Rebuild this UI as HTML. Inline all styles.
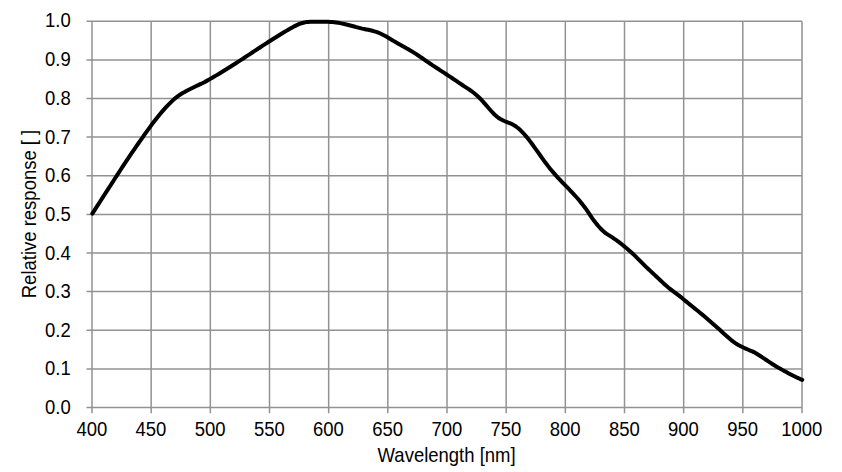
<!DOCTYPE html>
<html><head><meta charset="utf-8"><style>
html,body{margin:0;padding:0;background:#fff;width:842px;height:472px;overflow:hidden}
svg{display:block}
text{font-family:"Liberation Sans",sans-serif;font-size:18.5px;fill:#000}
</style></head><body>
<svg width="842" height="472" viewBox="0 0 842 472">
<rect width="842" height="472" fill="#fff"/>
<g stroke="#929292" stroke-width="1.5" fill="none">
<line x1="92.00" y1="21.25" x2="92.00" y2="413.2"/>
<line x1="151.17" y1="21.25" x2="151.17" y2="413.2"/>
<line x1="210.33" y1="21.25" x2="210.33" y2="413.2"/>
<line x1="269.50" y1="21.25" x2="269.50" y2="413.2"/>
<line x1="328.67" y1="21.25" x2="328.67" y2="413.2"/>
<line x1="387.83" y1="21.25" x2="387.83" y2="413.2"/>
<line x1="447.00" y1="21.25" x2="447.00" y2="413.2"/>
<line x1="506.17" y1="21.25" x2="506.17" y2="413.2"/>
<line x1="565.33" y1="21.25" x2="565.33" y2="413.2"/>
<line x1="624.50" y1="21.25" x2="624.50" y2="413.2"/>
<line x1="683.67" y1="21.25" x2="683.67" y2="413.2"/>
<line x1="742.83" y1="21.25" x2="742.83" y2="413.2"/>
<line x1="802.00" y1="21.25" x2="802.00" y2="413.2"/>
<line x1="86.5" y1="407.50" x2="802.0" y2="407.50"/>
<line x1="86.5" y1="368.88" x2="802.0" y2="368.88"/>
<line x1="86.5" y1="330.25" x2="802.0" y2="330.25"/>
<line x1="86.5" y1="291.62" x2="802.0" y2="291.62"/>
<line x1="86.5" y1="253.00" x2="802.0" y2="253.00"/>
<line x1="86.5" y1="214.38" x2="802.0" y2="214.38"/>
<line x1="86.5" y1="175.75" x2="802.0" y2="175.75"/>
<line x1="86.5" y1="137.12" x2="802.0" y2="137.12"/>
<line x1="86.5" y1="98.50" x2="802.0" y2="98.50"/>
<line x1="86.5" y1="59.88" x2="802.0" y2="59.88"/>
<line x1="86.5" y1="21.25" x2="802.0" y2="21.25"/>
</g>
<path d="M92.30 213.65 L94.30 210.55 96.30 207.44 98.30 204.34 100.30 201.24 102.30 198.14 104.30 195.04 106.30 191.94 108.30 188.84 110.30 185.73 112.30 182.62 114.30 179.52 116.30 176.42 118.30 173.33 120.30 170.26 122.30 167.19 124.30 164.15 126.30 161.13 128.30 158.14 130.30 155.17 132.30 152.23 134.30 149.30 136.30 146.40 138.30 143.51 140.30 140.65 142.30 137.80 144.30 134.96 146.30 132.15 148.30 129.37 150.30 126.62 152.30 123.92 154.30 121.27 156.30 118.68 158.30 116.16 160.30 113.72 162.30 111.36 164.30 109.10 166.30 106.93 168.30 104.86 170.30 102.85 172.30 100.90 174.30 99.06 176.30 97.37 178.30 95.88 180.30 94.53 182.30 93.29 184.30 92.14 186.30 91.06 188.30 90.03 190.30 89.03 192.30 88.04 194.30 87.05 196.30 86.06 198.30 85.11 200.30 84.19 202.30 83.24 204.30 82.22 206.30 81.13 208.30 80.01 210.30 78.88 212.30 77.73 214.30 76.56 216.30 75.39 218.30 74.19 220.30 72.99 222.30 71.77 224.30 70.54 226.30 69.30 228.30 68.05 230.30 66.79 232.30 65.52 234.30 64.24 236.30 62.96 238.30 61.67 240.30 60.37 242.30 59.07 244.30 57.76 246.30 56.45 248.30 55.13 250.30 53.81 252.30 52.49 254.30 51.17 256.30 49.85 258.30 48.54 260.30 47.23 262.30 45.92 264.30 44.62 266.30 43.33 268.30 42.05 270.30 40.78 272.30 39.51 274.30 38.24 276.30 36.99 278.30 35.74 280.30 34.50 282.30 33.26 284.30 32.05 286.30 30.85 288.30 29.67 290.30 28.52 292.30 27.40 294.30 26.34 296.30 25.35 298.30 24.44 300.30 23.65 302.30 22.98 304.30 22.46 306.30 22.10 308.30 21.91 310.30 21.85 312.30 21.85 314.30 21.86 316.30 21.86 318.30 21.83 320.30 21.80 322.30 21.77 324.30 21.76 326.30 21.77 328.30 21.81 330.30 21.89 332.30 22.02 334.30 22.20 336.30 22.45 338.30 22.77 340.30 23.16 342.30 23.60 344.30 24.07 346.30 24.55 348.30 25.03 350.30 25.51 352.30 26.00 354.30 26.53 356.30 27.07 358.30 27.61 360.30 28.12 362.30 28.60 364.30 29.03 366.30 29.42 368.30 29.83 370.30 30.27 372.30 30.76 374.30 31.32 376.30 31.95 378.30 32.68 380.30 33.53 382.30 34.48 384.30 35.51 386.30 36.62 388.30 37.78 390.30 38.97 392.30 40.18 394.30 41.38 396.30 42.56 398.30 43.71 400.30 44.83 402.30 45.94 404.30 47.05 406.30 48.16 408.30 49.29 410.30 50.44 412.30 51.64 414.30 52.88 416.30 54.17 418.30 55.50 420.30 56.86 422.30 58.24 424.30 59.63 426.30 61.02 428.30 62.40 430.30 63.77 432.30 65.11 434.30 66.43 436.30 67.74 438.30 69.04 440.30 70.33 442.30 71.63 444.30 72.92 446.30 74.23 448.30 75.55 450.30 76.88 452.30 78.22 454.30 79.58 456.30 80.94 458.30 82.31 460.30 83.68 462.30 85.03 464.30 86.34 466.30 87.63 468.30 88.93 470.30 90.28 472.30 91.71 474.30 93.26 476.30 94.95 478.30 96.77 480.30 98.72 482.30 100.83 484.30 103.07 486.30 105.39 488.30 107.73 490.30 110.03 492.30 112.23 494.30 114.29 496.30 116.14 498.30 117.73 500.30 119.03 502.30 120.10 504.30 121.00 506.30 121.80 508.30 122.58 510.30 123.39 512.30 124.30 514.30 125.39 516.30 126.71 518.30 128.28 520.30 130.08 522.30 132.07 524.30 134.25 526.30 136.59 528.30 139.06 530.30 141.64 532.30 144.32 534.30 147.06 536.30 149.85 538.30 152.67 540.30 155.49 542.30 158.29 544.30 161.05 546.30 163.75 548.30 166.37 550.30 168.89 552.30 171.31 554.30 173.64 556.30 175.89 558.30 178.07 560.30 180.20 562.30 182.30 564.30 184.37 566.30 186.42 568.30 188.48 570.30 190.54 572.30 192.64 574.30 194.79 576.30 196.99 578.30 199.27 580.30 201.64 582.30 204.12 584.30 206.72 586.30 209.42 588.30 212.30 590.30 215.33 592.30 218.31 594.30 221.06 596.30 223.62 598.30 226.03 600.30 228.25 602.30 230.26 604.30 232.07 606.30 233.59 608.30 234.87 610.30 236.09 612.30 237.42 614.30 238.80 616.30 240.20 618.30 241.65 620.30 243.16 622.30 244.73 624.30 246.34 626.30 248.00 628.30 249.68 630.30 251.40 632.30 253.19 634.30 255.09 636.30 257.07 638.30 259.10 640.30 261.15 642.30 263.19 644.30 265.19 646.30 267.13 648.30 269.00 650.30 270.85 652.30 272.71 654.30 274.59 656.30 276.48 658.30 278.38 660.30 280.28 662.30 282.17 664.30 284.04 666.30 285.84 668.30 287.53 670.30 289.11 672.30 290.63 674.30 292.12 676.30 293.60 678.30 295.11 680.30 296.68 682.30 298.32 684.30 299.97 686.30 301.61 688.30 303.24 690.30 304.85 692.30 306.46 694.30 308.07 696.30 309.69 698.30 311.31 700.30 312.95 702.30 314.61 704.30 316.29 706.30 317.99 708.30 319.71 710.30 321.45 712.30 323.21 714.30 324.98 716.30 326.76 718.30 328.56 720.30 330.36 722.30 332.17 724.30 333.96 726.30 335.71 728.30 337.47 730.30 339.22 732.30 340.91 734.30 342.46 736.30 343.80 738.30 344.97 740.30 346.04 742.30 347.03 744.30 347.97 746.30 348.87 748.30 349.73 750.30 350.54 752.30 351.38 754.30 352.35 756.30 353.48 758.30 354.72 760.30 356.00 762.30 357.33 764.30 358.68 766.30 360.03 768.30 361.37 770.30 362.68 772.30 363.96 774.30 365.21 776.30 366.42 778.30 367.60 780.30 368.75 782.30 369.88 784.30 370.99 786.30 372.09 788.30 373.16 790.30 374.23 792.30 375.27 794.30 376.27 796.30 377.24 798.30 378.17 800.30 379.04 802.25 379.83" fill="none" stroke="#000" stroke-width="4.0" stroke-linecap="round" stroke-linejoin="round"/>
<text transform="translate(70.80 414.00) scale(1 1.045)" text-anchor="end">0.0</text>
<text transform="translate(70.80 375.38) scale(1 1.045)" text-anchor="end">0.1</text>
<text transform="translate(70.80 336.75) scale(1 1.045)" text-anchor="end">0.2</text>
<text transform="translate(70.80 298.12) scale(1 1.045)" text-anchor="end">0.3</text>
<text transform="translate(70.80 259.50) scale(1 1.045)" text-anchor="end">0.4</text>
<text transform="translate(70.80 220.88) scale(1 1.045)" text-anchor="end">0.5</text>
<text transform="translate(70.80 182.25) scale(1 1.045)" text-anchor="end">0.6</text>
<text transform="translate(70.80 143.62) scale(1 1.045)" text-anchor="end">0.7</text>
<text transform="translate(70.80 105.00) scale(1 1.045)" text-anchor="end">0.8</text>
<text transform="translate(70.80 66.38) scale(1 1.045)" text-anchor="end">0.9</text>
<text transform="translate(70.80 26.95) scale(1 1.045)" text-anchor="end">1.0</text>
<text transform="translate(91.80 435.90) scale(1 1.045)" text-anchor="middle">400</text>
<text transform="translate(150.97 435.90) scale(1 1.045)" text-anchor="middle">450</text>
<text transform="translate(210.13 435.90) scale(1 1.045)" text-anchor="middle">500</text>
<text transform="translate(269.30 435.90) scale(1 1.045)" text-anchor="middle">550</text>
<text transform="translate(328.47 435.90) scale(1 1.045)" text-anchor="middle">600</text>
<text transform="translate(387.63 435.90) scale(1 1.045)" text-anchor="middle">650</text>
<text transform="translate(446.80 435.90) scale(1 1.045)" text-anchor="middle">700</text>
<text transform="translate(505.97 435.90) scale(1 1.045)" text-anchor="middle">750</text>
<text transform="translate(565.13 435.90) scale(1 1.045)" text-anchor="middle">800</text>
<text transform="translate(624.30 435.90) scale(1 1.045)" text-anchor="middle">850</text>
<text transform="translate(683.47 435.90) scale(1 1.045)" text-anchor="middle">900</text>
<text transform="translate(742.63 435.90) scale(1 1.045)" text-anchor="middle">950</text>
<text transform="translate(801.80 435.90) scale(1 1.045)" text-anchor="middle">1000</text>
<text transform="translate(446.60 462.30) scale(1 1.045)" text-anchor="middle">Wavelength [nm]</text>
<text transform="translate(35.70 214.00) rotate(-90) scale(1 1.045)" text-anchor="middle">Relative response [ ]</text>
</svg>
</body></html>
